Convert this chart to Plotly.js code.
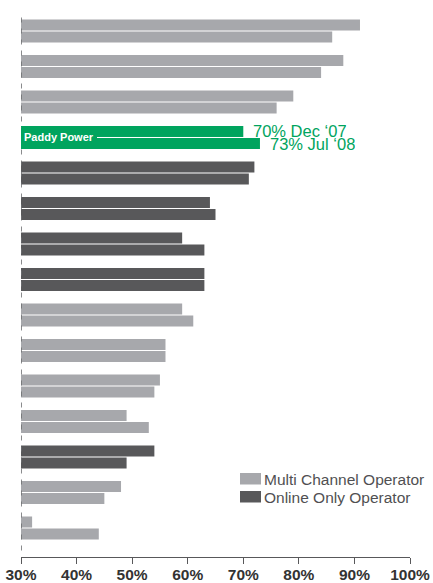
<!DOCTYPE html>
<html>
<head>
<meta charset="utf-8">
<script src="https://cdn.plot.ly/plotly-3.0.1.min.js"></script>
<style>html,body{margin:0;padding:0;background:#fff;}#chart{width:433px;height:583px;}</style>
</head>
<body>
<div id="chart"></div>
<script>
// ---- data ----
const operators = ["Op 1","Op 2","Op 3","Paddy Power","Op 5","Op 6","Op 7","Op 8","Op 9","Op 10","Op 11","Op 12","Op 13","Op 14","Op 15"];
const operatorType = ["multi","multi","multi","paddy","online","online","online","online","multi","multi","multi","multi","online","multi","multi"];
const dec07 = [91,88,79,70,72,64,59,63,59,56,55,49,54,48,32];
const jul08 = [86,84,76,73,71,65,63,63,61,56,54,53,49,45,44];
const periodNames = ["Dec \u201807","Jul \u201808"];
const legendLabels = ["Multi Channel Operator","Online Only Operator"];
const xTicks = [30,40,50,60,70,80,90,100];
const highlight = "Paddy Power";

// ---- styles ----
const COL = {multi:"#a7a8ac", online:"#58585a", paddy:"#00a45e"};
const FONT = "Liberation Sans, Arial, Helvetica, sans-serif";
const colors = operatorType.map(t => COL[t]);

const traces = [dec07, jul08].map((vals, k) => ({
  type: "bar", orientation: "h", name: periodNames[k],
  y: operators, x: vals,
  marker: {color: colors, line: {width: 0}},
  showlegend: false, hoverinfo: "skip"
}));

const pIdx = operators.indexOf(highlight);
const annotations = [
  {x: dec07[pIdx], y: operators[pIdx], xref: "x", yref: "y", xanchor: "left", yanchor: "middle",
   xshift: 8, yshift: 7, showarrow: false, height: 13, valign: "middle",
   text: dec07[pIdx] + "% " + periodNames[0],
   font: {family: FONT, size: 16.5, color: COL.paddy}},
  {x: jul08[pIdx], y: operators[pIdx], xref: "x", yref: "y", xanchor: "left", yanchor: "middle",
   xshift: 8, yshift: -6, showarrow: false, height: 13, valign: "middle",
   text: jul08[pIdx] + "% " + periodNames[1],
   font: {family: FONT, size: 16.5, color: COL.paddy}},
  {x: xTicks[0], y: operators[pIdx], xref: "x", yref: "y", xanchor: "left", yanchor: "middle",
   xshift: 0, yshift: 0, showarrow: false, text: highlight, bgcolor: COL.paddy, borderpad: 3, borderwidth: 0,
   font: {family: FONT, size: 11, color: "#ffffff", weight: "bold"}}
];

// legend drawn as swatches + labels
const legendCols = [COL.multi, COL.online];
const shapes = [
  {type: "line", xref: "x", yref: "paper", x0: xTicks[0], x1: xTicks[0], y0: 0.012, y1: 1,
   line: {color: "#6d6e71", width: 1.6, dash: "5px,6px"}, layer: "above"},
  {type: "line", xref: "x", yref: "y", x0: xTicks[0] + 14.2, x1: dec07[pIdx], y0: pIdx, y1: pIdx,
   line: {color: "#ffffff", width: 1}, layer: "above"}
];
legendLabels.forEach((lab, i) => {
  const yTop = 1 - (473 + i * 18 - 12) / 545;
  shapes.push({type: "rect", xref: "paper", yref: "paper",
    x0: (240 - 21) / 389, x1: (261 - 21) / 389, y0: yTop - 11.5 / 545, y1: yTop,
    fillcolor: legendCols[i], line: {width: 0}});
  annotations.push({xref: "paper", yref: "paper", x: (262 - 21) / 389, y: yTop - 6 / 545,
    xanchor: "left", yanchor: "middle", showarrow: false, text: lab,
    font: {family: FONT, size: 15.5, color: "#505052"}});
});

const layout = {
  width: 433, height: 583,
  margin: {l: 21, r: 23, t: 12, b: 26, pad: 0},
  paper_bgcolor: "#ffffff", plot_bgcolor: "#ffffff",
  barmode: "group", bargap: 0.33, bargroupgap: 0.08,
  showlegend: false,
  font: {family: FONT, color: "#333333"},
  xaxis: {range: [30, 100], tickvals: xTicks, ticktext: xTicks.map(v => v + "%"),
    showgrid: false, zeroline: false, showline: true, linecolor: "#58585a", linewidth: 1,
    ticks: "outside", ticklen: 6, tickwidth: 1, tickcolor: "#58585a", ticklabelstandoff: -3,
    tickfont: {family: FONT, size: 15.5, color: "#333333", weight: "bold"}, fixedrange: true},
  yaxis: {type: "category", categoryorder: "array", categoryarray: operators,
    range: [14.817, -0.535], showticklabels: false, showgrid: false, zeroline: false,
    showline: false, ticks: "", fixedrange: true},
  shapes: shapes,
  annotations: annotations
};

Plotly.newPlot("chart", traces, layout, {displayModeBar: false, staticPlot: true});
</script>
</body>
</html>
